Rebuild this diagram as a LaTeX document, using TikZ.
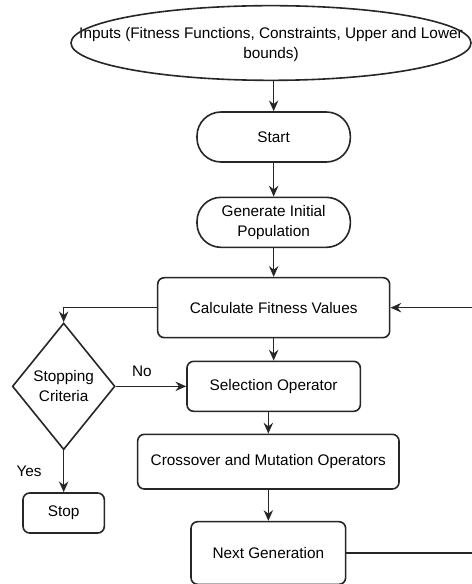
\documentclass[tikz,border=0pt]{standalone}
\usepackage{fontspec}
\setmainfont{Liberation Sans}
\usetikzlibrary{arrows.meta,shapes.geometric}

\begin{document}
\begin{tikzpicture}[
    x=0.75pt, y=-0.75pt,
    node distance=64pt,
    >={Stealth[length=8pt,width=7pt]},
    font=\fontsize{11.5pt}{15pt}\selectfont,
    line width=1.2pt,
    process/.style={
		rectangle,
		rounded corners=5pt,
		draw=black!85, 
		text centered,
		minimum height=37.5pt,
		fill=white
	},
	terminal/.style={
		process,
		rounded corners=18pt,
		minimum width=115pt
	},
	decision/.style={
		diamond,
		draw=black!85,
		align=center,
		inner sep=0pt,
		minimum width=77pt,
		minimum height=95pt
	},
	edgelabel/.style={
		inner sep=0pt
	}
  ]
  \useasboundingbox (0,0) rectangle (471,584);

    % We start by placing the blocks
  \node [align=center, minimum width=300pt, minimum height=53pt, inner sep=0pt] (inputs) at (271,45)
 {Inputs (Fitness Functions, Constraints, Upper and Lower\\bounds)};
  \draw [draw=black!85] ([yshift=1.5pt]inputs.center) ellipse [x radius=150pt, y radius=28pt];

  \node [terminal, below of=inputs, xshift=2pt, yshift=-5pt] (start) {Start};
  \node [terminal, below of=start, align=center] (gen) {Generate Initial\\Population};
  \node [process, below of=gen, minimum width=174pt, minimum height=45pt] (calc) {Calculate Fitness Values};
  \node [process, below of=calc, yshift=5pt, minimum width=130pt] (sel) {Selection Operator};
  \node [process, below of=sel, xshift=-4pt, yshift=7.5pt, minimum width=196pt, minimum height=41pt] (cross) {Crossover and Mutation Operators};
  \node [process, below of=cross, yshift=-4.5pt, minimum width=116pt, minimum height=47pt] (next) {Next Generation};

  \node [decision, node distance=157.5pt, left of=sel] (crit) {Stopping\\Criteria};
  \node [process, node distance=95pt, below of=crit, minimum width=61pt, minimum height=30pt] (stop) {Stop};

 \draw [draw=black!85,->] (inputs.south -| start.north) -- (start.north);
 \draw [draw=black!85,->] (start) -- (gen);
 \draw [draw=black!85,->] (gen) -- (calc);
 \draw [draw=black!85,->] (calc) -- (sel);
 \draw [draw=black!85,->] (sel.south -| cross.north) -- (cross.north);
 \draw [draw=black!85,->] (cross) -- (next);
 \draw [draw=black!85,->] (calc.west) -| (crit.north);
 \draw [draw=black!85,->] (crit.east) -- node [edgelabel, above, pos=0.37, yshift=7pt] {No} (sel.west);
 \draw [draw=black!85,->] (crit.south) -- node [edgelabel, left=16pt] {Yes} (stop.north);
 \draw [draw=black!85,->] (next.east) -- ++(130,0) |- (calc.east);

\end{tikzpicture}
\end{document}
